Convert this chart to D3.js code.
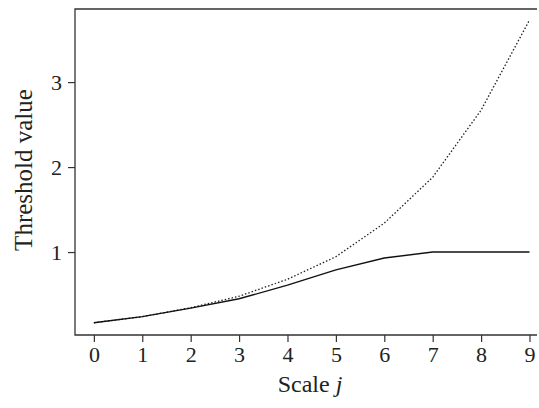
<!DOCTYPE html>
<html>
<head>
<meta charset="utf-8">
<script src="https://cdn.jsdelivr.net/npm/d3@7"></script>
<style>
body { margin: 0; background: #fff; }
text { font-family: "Liberation Serif", "Times New Roman", serif; fill: #222; }
</style>
</head>
<body>
<div id="chart-area"></div>
<script>
// scale j and the two threshold curves
var scales = [0, 1, 2, 3, 4, 5, 6, 7, 8, 9];
var solidValues = [0.168, 0.24, 0.34, 0.45, 0.61, 0.79, 0.93, 1.0, 1.0, 1.0];
var dottedValues = [0.168, 0.24, 0.345, 0.48, 0.68, 0.945, 1.34, 1.88, 2.67, 3.73];
var yTicks = [1, 2, 3];

var w = 539, h = 408;
var plot = {left: 75, top: 9, bottom: 335, right: 537};

var svg = d3.select("#chart-area").append("svg")
	.attr("width", w)
	.attr("height", h);

var x = d3.scaleLinear()
	.domain([-0.39, 9.155])
	.range([plot.left, plot.right]);

var y = d3.scaleLinear()
	.domain([0.024, 3.86])
	.range([plot.bottom, plot.top]);

// frame: left, top, bottom (no right side)
svg.append("path")
	.attr("d", "M" + plot.right + "," + plot.top + "H" + plot.left + "V" + plot.bottom + "H" + plot.right)
	.attr("fill", "none")
	.attr("stroke", "#333")
	.attr("stroke-width", 1.3);

var bottom = d3.axisBottom(x)
	.tickValues(scales)
	.tickSize(7)
	.tickPadding(4)
	.tickFormat(d3.format("d"));

var left = d3.axisLeft(y)
	.tickValues(yTicks)
	.tickSize(7)
	.tickPadding(6)
	.tickFormat(d3.format("d"));

var x_group = svg.append("g")
	.attr("transform", "translate(0," + plot.bottom + ")")
	.call(bottom);

var y_group = svg.append("g")
	.attr("transform", "translate(" + plot.left + ",0)")
	.call(left);

[x_group, y_group].forEach(function(g) {
	g.select(".domain").remove();
	g.selectAll("line").attr("stroke", "#333").attr("stroke-width", 1.2);
	g.selectAll("text")
		.attr("font-size", "22px")
		.attr("fill", "#222");
});

var line = d3.line()
	.x(function(d, i) { return x(scales[i]); })
	.y(function(d) { return y(d); });

svg.append("path")
	.datum(dottedValues)
	.attr("d", line)
	.attr("fill", "none")
	.attr("stroke", "#222")
	.attr("stroke-width", 1.3)
	.attr("stroke-dasharray", "1.5,2");

svg.append("path")
	.datum(solidValues)
	.attr("d", line)
	.attr("fill", "none")
	.attr("stroke", "#111")
	.attr("stroke-width", 1.4);

svg.append("text")
	.attr("transform", "rotate(-90)")
	.attr("x", -170)
	.attr("y", 32)
	.attr("text-anchor", "middle")
	.attr("font-size", "25px")
	.text("Threshold value");

var x_label = svg.append("text")
	.attr("x", 310)
	.attr("y", 392)
	.attr("text-anchor", "middle")
	.attr("font-size", "24px");
x_label.append("tspan").text("Scale ");
x_label.append("tspan").attr("font-style", "italic").text("j");
</script>
</body>
</html>
